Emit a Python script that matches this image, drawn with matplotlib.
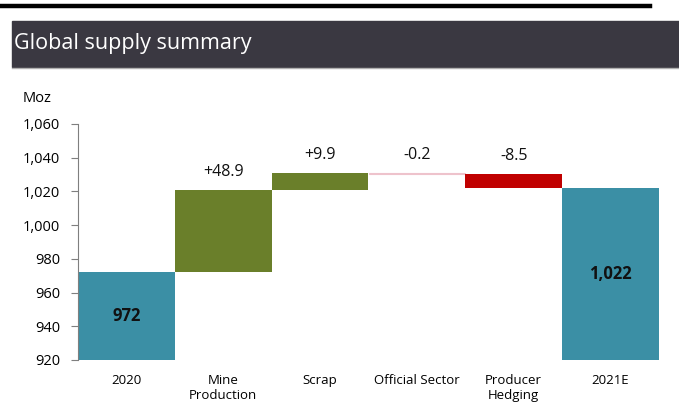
import matplotlib.pyplot as plt
import numpy as np

plt.rcParams['font.family'] = ['Open Sans', 'DejaVu Sans']

# waterfall data (Moz)
categories = ['2020', 'Mine\nProduction', 'Scrap', 'Official Sector', 'Producer\nHedging', '2021E']
start_total = 972
changes = [48.9, 9.9, -0.2, -8.5]
end_total = 1022
change_labels = ['+48.9', '+9.9', '-0.2', '-8.5']
total_labels = ['972', '1,022']
yticks = [920, 940, 960, 980, 1000, 1020, 1040, 1060]

teal = '#3b8fa5'
green = '#6a7f2a'
red = '#c00000'
tiny = '#eec3cc'  # very small moves show up as a faint sliver

fig = plt.figure(figsize=(6.79, 4.17), dpi=100)

# top rule and header band
fig.add_artist(plt.Line2D([0, 650 / 679], [1 - 5.5 / 417, 1 - 5.5 / 417], color='black', lw=3.2))
fig.add_artist(plt.Rectangle((12 / 679, 1 - 67 / 417), 1, 46 / 417, color='#3a3841', transform=fig.transFigure))
fig.add_artist(plt.Line2D([12 / 679, 1], [1 - 67.5 / 417, 1 - 67.5 / 417], color='#b0b0b0', lw=1))
fig.text(14 / 679, 1 - 44 / 417, 'Global supply summary', color='white', fontsize=15.5, va='center', ha='left')

ax = fig.add_axes([78 / 679, 1 - 360 / 417, 581 / 679, 236 / 417])
x = np.arange(len(categories))

# totals
ax.bar(x[0], start_total - 920, bottom=920, width=1.0, color=teal)
ax.bar(x[-1], end_total - 920, bottom=920, width=1.0, color=teal)

# floating changes
level = start_total
tops = []
for i, c in enumerate(changes):
    bottom = level if c >= 0 else level + c
    if abs(c) < 1:
        col = tiny
    else:
        col = green if c >= 0 else red
    ax.bar(x[i + 1], abs(c), bottom=bottom, width=1.0, color=col,
           edgecolor=col, linewidth=0.8 if abs(c) < 1 else 0)
    level += c
    tops.append(max(level, level - c))

for i, (lab, top) in enumerate(zip(change_labels, tops)):
    ax.annotate(lab, (x[i + 1], top), xytext=(0, 13), textcoords='offset points',
                ha='center', va='center', fontsize=11.5, color='#111111')

ax.text(x[0], (920 + start_total) / 2, total_labels[0], ha='center', va='center',
        fontsize=12, fontweight='bold', color='#111111')
ax.text(x[-1], (920 + end_total) / 2, total_labels[1], ha='center', va='center',
        fontsize=12, fontweight='bold', color='#111111')

ax.set_ylim(920, 1060)
ax.set_xlim(-0.5, len(categories) - 0.5)
ax.set_yticks(yticks)
ax.set_yticklabels([f'{v:,}' for v in yticks])
ax.set_xticks(x)
ax.set_xticklabels(categories, fontsize=9.5, linespacing=1.2)
ax.tick_params(axis='x', length=0, pad=10)
ax.tick_params(axis='y', length=5, width=0.8, color='#7f7f7f', labelsize=10.5, pad=8)
for s in ['top', 'right', 'bottom']:
    ax.spines[s].set_visible(False)
ax.spines['left'].set_color('#7f7f7f')
ax.spines['left'].set_linewidth(0.8)

fig.text(23 / 679, 1 - 98 / 417, 'Moz', fontsize=10.5, va='center', ha='left')

fig.savefig('out.png', dpi=100)
